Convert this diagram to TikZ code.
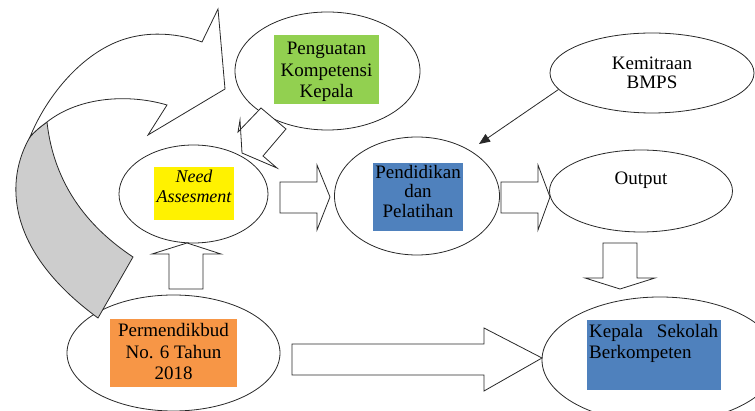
\documentclass[tikz,border=0pt]{standalone}
\usepackage{fontspec}
\setmainfont{Liberation Serif}
\usetikzlibrary{shapes.geometric,arrows.meta}
\definecolor{boxgreen}{RGB}{146,208,80}
\definecolor{boxblue}{RGB}{79,129,189}
\definecolor{boxorange}{RGB}{247,150,70}
\definecolor{bandgrey}{RGB}{205,205,205}
\definecolor{linegrey}{RGB}{40,40,40}

\begin{document}
\begin{tikzpicture}[x=1pt, y=-1pt,
	oval/.style={draw=linegrey, line width=0.8pt, ellipse, inner sep=0pt},
	colbox/.style={inner sep=0pt, outer sep=0pt},
	txt/.style={inner sep=0pt, align=center, font=\fontsize{19}{21.5}\selectfont},
	blockarrow/.style={draw=linegrey, line width=0.8pt, line join=miter}]
		%%%%% START %%%%%
		\useasboundingbox (0, 0) rectangle (755, 411);
		
		\node[oval, minimum width=185, minimum height=118] (penguatan) at (327.5, 71) {};
		\node[oval, minimum width=204, minimum height=80] (kemitraan) at (652, 73) {};
		\node[oval, minimum width=149, minimum height=98] (need) at (193.5, 194) {};
		\node[oval, minimum width=165, minimum height=118] (pendidikan) at (417, 196) {};
		\node[oval, minimum width=183, minimum height=82] (output) at (641, 191) {};
		\node[oval, minimum width=213, minimum height=116] (permendikbud) at (173.5, 353) {};
		\node[oval, minimum width=236, minimum height=126] (kepala) at (660, 360) {};
		
		\node[colbox, fill=boxgreen, minimum width=105, minimum height=69] (penguatanbox) at (326.5, 69.5) {};
		\node[colbox, fill=yellow, minimum width=80, minimum height=53] (needbox) at (194, 193.5) {};
		\node[colbox, fill=boxblue, minimum width=90, minimum height=68] (pendidikanbox) at (418, 197) {};
		\node[colbox, fill=boxorange, minimum width=127, minimum height=68] (permendikbudbox) at (173.5, 353) {};
		\node[colbox, fill=boxblue, minimum width=134, minimum height=70] (kepalabox) at (654, 355) {};
		
		\node[txt] (penguatantxt) at (326.5, 72) {Penguatan\\Kompetensi\\Kepala};
		\node[txt, font=\fontsize{19}{19}\selectfont] (kemitraantxt) at (652, 73) {Kemitraan\\BMPS};
		\node[txt, font=\itshape\fontsize{18}{20}\selectfont] (needtxt) at (194, 186) {Need\\Assesment};
		\node[txt, font=\fontsize{19}{19.5}\selectfont] (pendidikantxt) at (418, 191.5) {Pendidikan\\dan\\Pelatihan};
		\node[txt] (outputtxt) at (641, 180) {Output};
		\node[txt] (permendikbudtxt) at (173.5, 352) {Permendikbud\\No. 6 Tahun\\2018};
		\node[txt, anchor=north west, text width=129pt, align=left] (kepalatxt) at (589, 324) {Kepala\hfill Sekolah\\Berkompeten};
		
		% curved arrow on the left
		\draw[blockarrow, fill=bandgrey] (30, 137) .. controls (5, 180) and (5, 250) .. (98, 318)
			-- (133, 257) .. controls (100, 235) and (55, 195) .. (47, 122)
			.. controls (40, 127) and (34, 132) .. (30, 137) -- cycle;
		\draw[blockarrow, fill=white] (30, 137) .. controls (45, 100) and (75, 62) .. (110, 45)
			.. controls (140, 30) and (175, 32) .. (202, 42)
			-- (218, 9) -- (225, 89) -- (148, 135) -- (167, 105)
			.. controls (130, 94) and (80, 96) .. (47, 122)
			.. controls (40, 127) and (34, 132) .. (30, 137) -- cycle;
		
		% block arrows
		\draw[blockarrow, fill=white] (240, 120) -- (238, 132) -- (261, 108) -- (286, 129) -- (263, 156) -- (277, 168) -- (242, 153) -- cycle;
		\draw[blockarrow] (280, 182) -- (317, 182) -- (317, 165) -- (330, 197) -- (317, 230) -- (317, 213) -- (280, 213) -- cycle;
		\draw[blockarrow] (501, 182) -- (538, 182) -- (538, 165) -- (550, 197) -- (538, 230) -- (538, 213) -- (501, 213) -- cycle;
		\draw[blockarrow] (169, 289) -- (169, 254) -- (152, 254) -- (187, 243) -- (221, 254) -- (203, 254) -- (203, 289) -- cycle;
		\draw[blockarrow] (603, 243) -- (637, 243) -- (637, 278) -- (655, 278) -- (620, 289) -- (585, 278) -- (603, 278) -- cycle;
		\draw[blockarrow] (292, 344) -- (484, 344) -- (484, 328) -- (542, 358) -- (484, 391) -- (484, 375) -- (292, 375) -- cycle;
		
		\coordinate (kemtip) at (479, 144);
		\draw[line width=0.8pt, draw=linegrey, -{Triangle[length=11pt, width=9pt]}] (kemitraan.190) -- (kemtip);
		%%%%% END %%%%%
\end{tikzpicture}
\end{document}
